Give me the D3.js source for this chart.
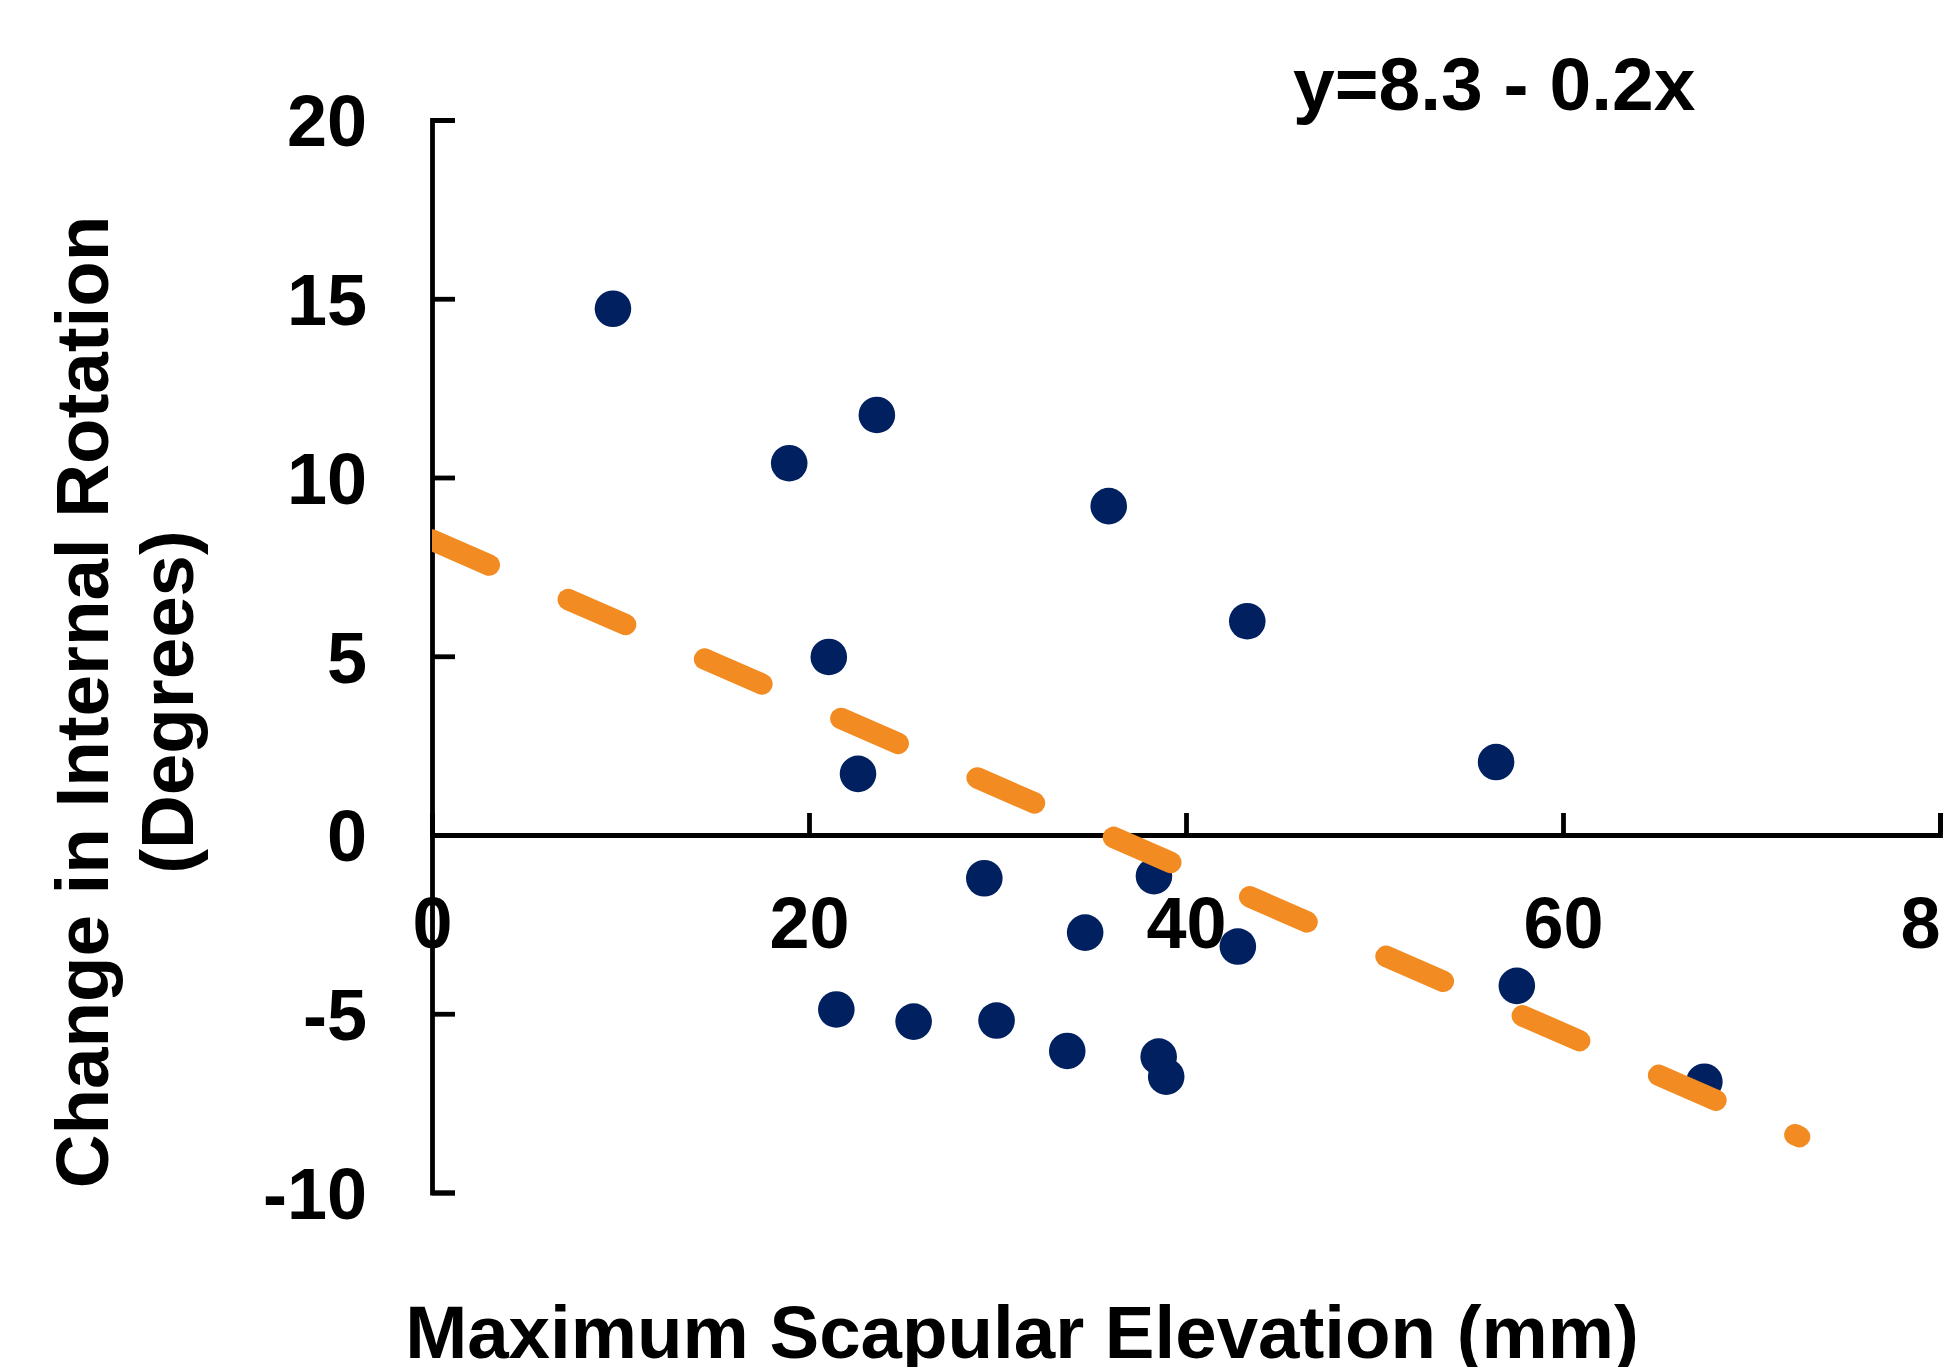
<!DOCTYPE html>
<html>
<head>
<meta charset="utf-8">
<script src="https://cdn.jsdelivr.net/npm/d3@7"></script>
<style>
  html, body { margin: 0; padding: 0; background: #fff; overflow: hidden; }
  svg { display: block; }
</style>
</head>
<body>
<script>
// ---- data ----
const elevation = [9.6, 18.95, 23.6, 21.05, 22.6, 35.9, 43.25, 56.45, 29.3, 38.3, 34.65, 42.75, 21.45, 25.55, 29.95, 33.7, 38.55, 38.95, 57.55, 67.5];
const rotationChange = [14.72, 10.40, 11.75, 4.98, 1.71, 9.20, 5.98, 2.04, -1.21, -1.15, -2.73, -3.12, -4.88, -5.22, -5.19, -6.04, -6.20, -6.76, -4.22, -6.90];
const trendX = [0, 72.55];
const trendY = [8.25, -8.44];
const xTicks = [0, 20, 40, 60, 80];
const yTicks = [-10, -5, 0, 5, 10, 15, 20];
const equationLabel = "y=8.3 - 0.2x";
const xTitle = "Maximum Scapular Elevation (mm)";
const yTitleLines = ["Change in Internal Rotation", "(Degrees)"];

// ---- layout ----
const W = 1943, H = 1367;
const FONT = "'Liberation Sans', Arial, Helvetica, sans-serif";
const NAVY = "#002060", ORANGE = "#F28B21";
const fmt = d => String(d); // plain hyphen-minus as in the reference

const svg = d3.select("body").append("svg").attr("width", W).attr("height", H);

const x = d3.scaleLinear().domain([0, 80]).range([432, 1940]);
const y = d3.scaleLinear().domain([-10, 20]).range([1192.5, 120]);

// clip for trend line (starts flush at the y axis)
svg.append("defs").append("clipPath").attr("id", "plotclip")
  .append("rect").attr("x", x(0)).attr("y", 0).attr("width", W - x(0)).attr("height", H);

// x axis at y=0 with ticks pointing up and labels below
const gx = svg.append("g")
  .attr("transform", `translate(0,${y(0)})`)
  .call(d3.axisTop(x).tickValues(xTicks).tickSize(22).tickSizeOuter(22).tickFormat(fmt));
gx.attr("font-family", FONT).attr("font-size", 72).attr("font-weight", "bold");
gx.selectAll("path, line").attr("stroke", "#000").attr("stroke-width", 4.8);
gx.selectAll("text").attr("y", 113).attr("dy", "0em").attr("fill", "#000");

// y axis at x=0 with ticks pointing right and labels left
const gy = svg.append("g")
  .attr("transform", `translate(${x(0)},0)`)
  .call(d3.axisRight(y).tickValues(yTicks).tickSize(23).tickSizeOuter(23).tickFormat(fmt));
gy.attr("font-family", FONT).attr("font-size", 72).attr("font-weight", "bold");
gy.selectAll("path, line").attr("stroke", "#000").attr("stroke-width", 4.8);
gy.selectAll("text").attr("x", -65).attr("dy", "0.358em").attr("text-anchor", "end").attr("fill", "#000");

// points
const pts = elevation.map((v, i) => ({ x: v, y: rotationChange[i] }));
svg.append("g").selectAll("circle").data(pts).join("circle")
  .attr("cx", d => x(d.x)).attr("cy", d => y(d.y)).attr("r", 18.3).attr("fill", NAVY);

// trend line (dashed, round caps)
const trend = trendX.map((v, i) => ({ x: v, y: trendY[i] }));
svg.append("path").datum(trend)
  .attr("clip-path", "url(#plotclip)")
  .attr("d", d3.line().x(d => x(d.x)).y(d => y(d.y)))
  .attr("fill", "none").attr("stroke", ORANGE).attr("stroke-width", 21.5)
  .attr("stroke-linecap", "round").attr("stroke-dasharray", "62.5 86.2");

// equation
svg.append("text").attr("x", 1293).attr("y", 110)
  .attr("font-family", FONT).attr("font-weight", "bold").attr("font-size", 75)
  .attr("fill", "#000").text(equationLabel);

// x title
svg.append("text").attr("x", 1022).attr("y", 1358).attr("text-anchor", "middle")
  .attr("font-family", FONT).attr("font-weight", "bold").attr("font-size", 74.5)
  .attr("fill", "#000").text(xTitle);

// y title (two lines, rotated)
const yt = svg.append("text")
  .attr("transform", "translate(108,702) rotate(-90)")
  .attr("text-anchor", "middle")
  .attr("font-family", FONT).attr("font-weight", "bold").attr("font-size", 74.5).attr("fill", "#000");
yTitleLines.forEach((t, i) => {
  yt.append("tspan").attr("x", 0).attr("y", i * 85).text(t);
});
</script>
</body>
</html>
